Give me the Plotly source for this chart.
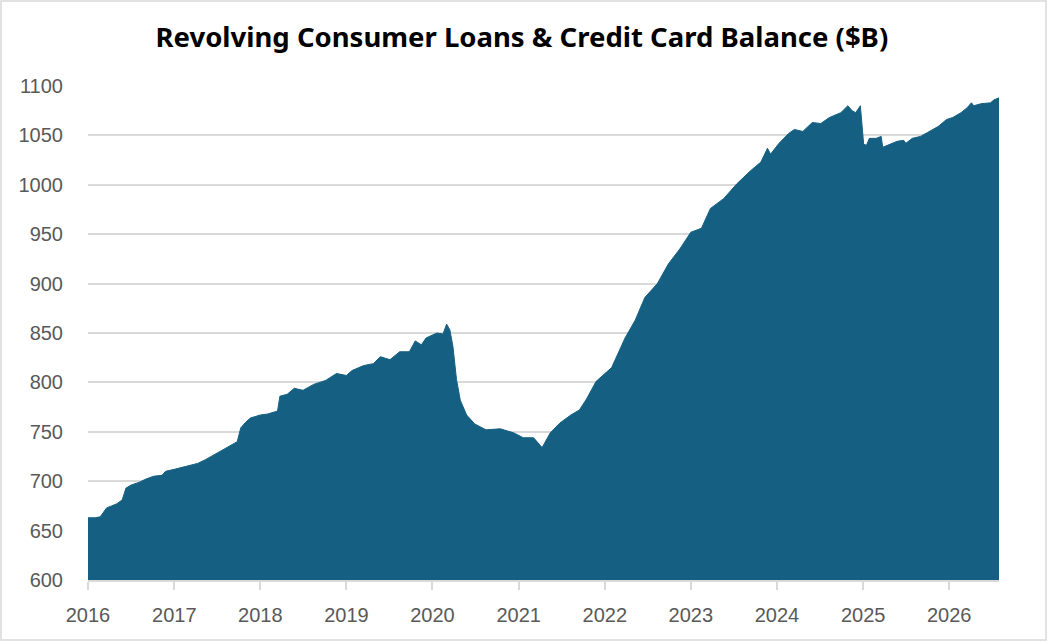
import plotly.graph_objects as go

# balance readings ($B)
dates = [
    "2016-01-01", "2016-02-01", "2016-02-22", "2016-03-20", "2016-04-10", "2016-05-01",
    "2016-05-25", "2016-06-10", "2016-07-01", "2016-08-06", "2016-09-01", "2016-10-05",
    "2016-11-10", "2016-11-25", "2017-01-01", "2017-02-01", "2017-03-01", "2017-04-10",
    "2017-05-15", "2017-06-20", "2017-08-01", "2017-09-10", "2017-09-25", "2017-10-10",
    "2017-11-01", "2017-11-20", "2018-01-01", "2018-02-01", "2018-03-05", "2018-03-15",
    "2018-03-25", "2018-04-25", "2018-05-25", "2018-07-01", "2018-08-15", "2018-10-05",
    "2018-11-20", "2019-01-01", "2019-01-25", "2019-03-15", "2019-04-25", "2019-05-25",
    "2019-07-05", "2019-08-15", "2019-09-25", "2019-10-20", "2019-11-15", "2019-12-05",
    "2020-01-20", "2020-02-15", "2020-03-01", "2020-03-15", "2020-03-28", "2020-04-12",
    "2020-04-28", "2020-05-25", "2020-06-28", "2020-08-15", "2020-10-15", "2020-12-10",
    "2021-01-20", "2021-03-05", "2021-04-10", "2021-05-15", "2021-06-25", "2021-08-10",
    "2021-09-15", "2021-10-15", "2021-11-25", "2022-01-30", "2022-03-28", "2022-05-10",
    "2022-06-20", "2022-08-12", "2022-09-28", "2022-11-15", "2023-01-01", "2023-02-15",
    "2023-03-25", "2023-05-20", "2023-07-15", "2023-09-10", "2023-10-25", "2023-11-22",
    "2023-12-05", "2024-01-10", "2024-02-20", "2024-03-15", "2024-04-20", "2024-05-30",
    "2024-07-05", "2024-08-10", "2024-09-28", "2024-10-28", "2024-11-15", "2024-11-30",
    "2024-12-20", "2025-01-03", "2025-01-15", "2025-01-27", "2025-02-25", "2025-03-18",
    "2025-03-25", "2025-04-25", "2025-05-25", "2025-06-22", "2025-07-01", "2025-07-28",
    "2025-09-01", "2025-10-01", "2025-11-15", "2025-12-20", "2026-01-15", "2026-02-20",
    "2026-03-18", "2026-04-05", "2026-04-15", "2026-05-15", "2026-06-25", "2026-07-10",
    "2026-07-31",
]
balance = [
    663, 663, 664, 673, 675, 677,
    681, 693, 696, 699, 702, 705,
    706, 710, 712, 714, 716, 718,
    722, 727, 732, 738, 740, 754,
    760, 764, 767, 768, 770, 771,
    786, 788, 794, 792, 798, 802,
    809, 807, 812, 817, 819, 826,
    823, 831, 831, 842, 838, 845,
    850, 849, 859, 853, 836, 803,
    782, 767, 758, 752, 753, 749,
    744, 744, 734, 749, 759, 767,
    772, 783, 801, 815, 845, 863,
    886, 900, 920, 935, 952, 956,
    976, 986, 1001, 1014, 1023, 1037,
    1031, 1042, 1052, 1056, 1054, 1063,
    1062, 1068, 1073, 1080, 1075, 1073,
    1080, 1041, 1040, 1047, 1047, 1049,
    1038, 1041, 1044, 1045, 1042, 1047,
    1049, 1053, 1059, 1066, 1068, 1073,
    1078, 1083, 1080, 1082, 1083, 1086,
    1088,
]
year_ticks = ["%d-01-01" % y for y in range(2016, 2027)]
year_labels = [str(y) for y in range(2016, 2027)]

fill_col = "#156082"
grid_col = "#d9d9d9"
tick_font = dict(family="Liberation Sans, Arial", size=20, color="#595959")

fig = go.Figure()
fig.add_trace(go.Scatter(
    x=dates, y=balance,
    mode="lines",
    line=dict(color=fill_col, width=1),
    fill="tozeroy",
    fillcolor=fill_col,
    hoverinfo="x+y",
))

fig.update_layout(
    width=1048, height=642,
    margin=dict(l=88, r=49, t=86, b=62),
    paper_bgcolor="white",
    plot_bgcolor="white",
    showlegend=False,
    title=dict(
        text="<b>Revolving Consumer Loans & Credit Card Balance ($B)</b>",
        x=0.498, xanchor="center", xref="container",
        y=1 - 37 / 642, yref="container", yanchor="middle",
        font=dict(family="Noto Sans, Open Sans", size=27.5, color="black"),
    ),
    xaxis=dict(
        type="date",
        range=["2016-01-01", "2026-07-31"],
        tickvals=year_ticks,
        ticktext=year_labels,
        showgrid=False,
        showline=True, linecolor=grid_col, linewidth=1.5,
        ticks="outside", ticklen=8, tickcolor=grid_col, tickwidth=1.5,
        ticklabelstandoff=8,
        tickfont=tick_font,
    ),
    yaxis=dict(
        range=[600, 1100],
        dtick=50,
        showgrid=True, gridcolor=grid_col, gridwidth=1.5,
        showline=False, zeroline=False,
        ticks="", ticklabelstandoff=24,
        tickfont=tick_font,
    ),
    shapes=[dict(
        type="rect", xref="paper", yref="paper",
        x0=-87 / 911, x1=958 / 911, y0=-60 / 494, y1=579 / 494,
        line=dict(color=grid_col, width=1.5),
        fillcolor="rgba(0,0,0,0)", layer="below",
    )],
)

# drop the page margin so the figure sits at the window's top-left corner
fig.write_html("out.html", config={"displayModeBar": False},
               post_script="document.body.style.margin='0';")
